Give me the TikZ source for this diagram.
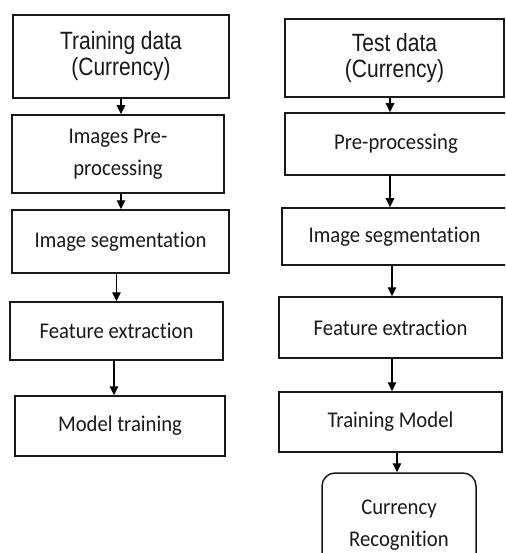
\documentclass[tikz,border=0pt]{standalone}
\usepackage{fontspec}
\usetikzlibrary{arrows.meta}
\newfontfamily\topfont[FakeStretch=0.84]{Liberation Sans}
\newfontfamily\boxfont[FakeStretch=0.92,Ligatures=NoCommon]{Carlito}
\begin{document}
\begin{tikzpicture}[x=1pt,y=-1pt,
  stepbox/.style={draw=black!90, line width=1.5pt, rectangle, inner sep=0pt,
    align=center, text=black!90, font=\boxfont\fontsize{22.5}{32}\selectfont},
  topbox/.style={stepbox, font=\topfont\fontsize{25}{26}\selectfont},
  endbox/.style={stepbox, rounded corners=13pt},
  arr/.style={draw=black, line width=1.4pt, -{Triangle[length=9pt,width=8.5pt]}}]
\useasboundingbox (0,0) rectangle (505,553);
\clip (0,0) rectangle (505,553);
% left column
\node[topbox, minimum width=216pt, minimum height=83pt] (L1) at (121,56.5) {Training data\\(Currency)};
\node[stepbox, minimum width=212pt, minimum height=78pt] (L2) at (118,154) {Images Pre-\\processing};
\node[stepbox, minimum width=217pt, minimum height=63pt] (L3) at (120.5,241.5) {Image segmentation};
\node[stepbox, minimum width=213pt, minimum height=58pt] (L4) at (116.5,331) {Feature extraction};
\node[stepbox, minimum width=210pt, minimum height=60pt] (L5) at (120,426) {Model training};
% right column
\node[topbox, minimum width=219pt, minimum height=78pt] (R1) at (394.5,58) {Test data\\(Currency)};
\node[stepbox, minimum width=222pt, minimum height=62pt] (R2) at (396,144) {Pre-processing};
\node[stepbox, minimum width=225pt, minimum height=57pt] (R3) at (394.5,236.5) {Image segmentation};
\node[stepbox, minimum width=223pt, minimum height=61pt] (R4) at (390.5,327.5) {Feature extraction};
\node[stepbox, minimum width=223pt, minimum height=60pt] (R5) at (390.5,422) {Training Model};
\node[endbox, minimum width=154pt, minimum height=104pt] (R6) at (399,525) {Currency\\Recognition};
% left arrows
\draw[arr] (L1.south) -- (L1.south |- L2.north);
\draw[arr] ([xshift=3pt]L2.south) -- ([xshift=3pt]L2.south |- L3.north);
\draw[arr] ([xshift=-4pt]L3.south) -- (L4.north);
\draw[arr] ([xshift=-2.5pt]L4.south) -- ([xshift=-2.5pt]L4.south |- L5.north);
% right arrows
\draw[arr] ([xshift=-4.5pt]R1.south) -- ([xshift=-4.5pt]R1.south |- R2.north);
\draw[arr] ([xshift=-6pt]R2.south) -- ([xshift=-6pt]R2.south |- R3.north);
\draw[arr] ([xshift=-2.5pt]R3.south) -- ([xshift=-2.5pt]R3.south |- R4.north);
\draw[arr] ([xshift=1.5pt]R4.south) -- ([xshift=1.5pt]R4.south |- R5.north);
\draw[arr] ([xshift=6.5pt]R5.south) -- ([xshift=6.5pt]R5.south |- R6.north);
\end{tikzpicture}
\end{document}
